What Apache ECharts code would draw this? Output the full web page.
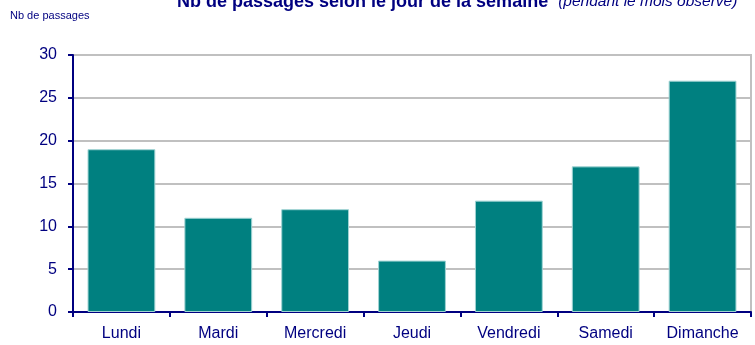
<!DOCTYPE html>
<html>
<head>
<meta charset="utf-8">
<script src="https://cdn.jsdelivr.net/npm/echarts@6/dist/echarts.min.js"></script>
<style>
  html, body { margin: 0; padding: 0; background: #fff; }
  #chart { width: 755px; height: 345px; }
</style>
</head>
<body>
<div id="chart"></div>
<script>
// Passages per day of week
const days = ['Lundi', 'Mardi', 'Mercredi', 'Jeudi', 'Vendredi', 'Samedi', 'Dimanche'];
const passages = [19, 11, 12, 6, 13, 17, 27];
const yTicks = { min: 0, max: 30, interval: 5 };

const navy = '#000080';
const fontFam = '"Liberation Sans", Arial, sans-serif';

const chart = echarts.init(document.getElementById('chart'));
chart.setOption({
  animation: false,
  title: {
    text: '{b|Nb de passages selon le jour de la semaine}  {i|(pendant le mois observé)}',
    left: 172,
    top: -12,
    textStyle: {
      fontWeight: 'normal',
      rich: {
        b: { fontFamily: fontFam, fontWeight: 'bold', fontSize: 18, color: navy },
        i: { fontFamily: fontFam, fontWeight: 'normal', fontStyle: 'italic', fontSize: 15.5, color: navy }
      }
    }
  },
  graphic: [{
    type: 'text',
    left: 10,
    top: 10,
    style: { text: 'Nb de passages', fontFamily: fontFam, fontSize: 11, fill: navy }
  }],
  grid: {
    left: 73, right: 4, top: 55, bottom: 33,
    show: true, borderColor: '#c0c0c0', borderWidth: 2, backgroundColor: 'transparent'
  },
  xAxis: {
    type: 'category',
    data: days,
    axisLine: { lineStyle: { color: navy, width: 2 } },
    axisTick: { show: true, alignWithLabel: false, length: 5, lineStyle: { color: navy, width: 2 } },
    axisLabel: { color: navy, fontFamily: fontFam, fontSize: 16, margin: 14 }
  },
  yAxis: {
    type: 'value',
    min: yTicks.min, max: yTicks.max, interval: yTicks.interval,
    axisLine: { show: true, lineStyle: { color: navy, width: 2 } },
    axisTick: { show: true, length: 5, lineStyle: { color: navy, width: 2 } },
    axisLabel: { color: navy, fontFamily: fontFam, fontSize: 16, margin: 16 },
    splitLine: { lineStyle: { color: '#c0c0c0', width: 2 } }
  },
  series: [{
    type: 'bar',
    data: passages,
    barCategoryGap: '30%',
    itemStyle: { color: '#008080', borderColor: '#9fd3d3', borderWidth: 1 }
  }]
});
</script>
</body>
</html>
